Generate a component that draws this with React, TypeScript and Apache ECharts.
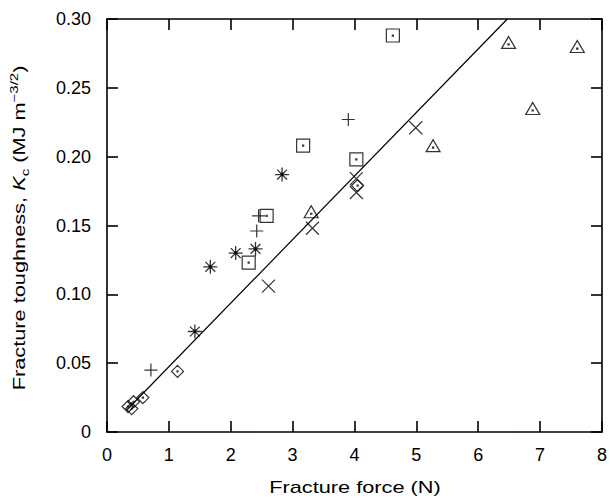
import React, { useEffect, useRef } from "react";
import * as echarts from "echarts";

// Data
const diamondX = [0.34, 0.40, 0.43, 0.58, 1.14, 4.05];
const diamondY = [0.0185, 0.017, 0.022, 0.025, 0.044, 0.179];

const plusX = [0.71, 2.42, 2.45, 3.90];
const plusY = [0.045, 0.146, 0.157, 0.227];

const squareX = [2.29, 2.58, 3.17, 4.03, 4.62];
const squareY = [0.123, 0.157, 0.208, 0.198, 0.288];

const starX = [1.42, 1.67, 2.08, 2.40, 2.83];
const starY = [0.073, 0.120, 0.130, 0.133, 0.187];

const crossX = [2.61, 3.32, 4.03, 4.03, 4.99];
const crossY = [0.106, 0.148, 0.184, 0.174, 0.221];

const triX = [3.30, 5.27, 6.49, 6.88, 7.60];
const triY = [0.160, 0.208, 0.283, 0.235, 0.280];

const fitX = [0.32, 6.47];
const fitY = [0.016, 0.30];

const xTitle = "Fracture force (N)";
const yTitle = "Fracture toughness, {i|K}{sub|c} (MJ m{sup|\u22123/2})";

const FONT = '"Liberation Sans", Arial, sans-serif';

const zip = (xs: number[], ys: number[]) => xs.map((x, i) => [x, ys[i]]);

const SYM_DIAMOND = "path://M5,0L10,5L5,10L0,5Z M4.6,4.6L5.4,4.6L5.4,5.4L4.6,5.4Z";
const SYM_SQUARE = "path://M0,0L10,0L10,10L0,10Z M4.6,4.6L5.4,4.6L5.4,5.4L4.6,5.4Z";
const SYM_TRI = "path://M5,0L10,8.7L0,8.7Z M4.6,5.4L5.4,5.4L5.4,6.2L4.6,6.2Z";
const SYM_PLUS = "path://M0,5L10,5M5,0L5,10";
const SYM_CROSS = "path://M0,0L10,10M10,0L0,10";
const SYM_STAR =
  "path://M5,0L5,10M0,5L10,5M1.5,1.5L8.5,8.5M8.5,1.5L1.5,8.5M6.1,5A1.1,1.1 0 1,1 3.9,5A1.1,1.1 0 1,1 6.1,5Z";

export default function App() {
  const ref = useRef<HTMLDivElement>(null);
  useEffect(() => {
    if (!ref.current) return;
    const chart = echarts.init(ref.current, null, { renderer: "svg" });
    const openStyle = { color: "rgba(0,0,0,0)", borderColor: "#000", borderWidth: 1.2 };
    const scatter = (name: string, xs: number[], ys: number[], symbol: string, size: any, style: any = openStyle) => ({
      name,
      type: "scatter",
      data: zip(xs, ys),
      symbol,
      symbolSize: size,
      itemStyle: style,
      z: 3,
    });
    const axisCommon = {
      axisLine: { show: true, onZero: false, lineStyle: { color: "#000", width: 1.6 } },
      axisTick: { show: true, inside: true, length: 11, lineStyle: { color: "#000", width: 1.6 } },
      splitLine: { show: false },
    };
    chart.setOption({
      animation: false,
      grid: { left: 107, right: 6, top: 19, bottom: 70, containLabel: false },
      xAxis: [
        {
          type: "value",
          min: 0,
          max: 8,
          interval: 1,
          ...axisCommon,
          axisLabel: { color: "#000", fontSize: 18, fontFamily: FONT, margin: 14 },
        },
        {
          type: "value",
          position: "top",
          min: 0,
          max: 8,
          interval: 1,
          ...axisCommon,
          axisLabel: { show: false },
        },
      ],
      yAxis: [
        {
          type: "value",
          min: 0,
          max: 0.3,
          interval: 0.05,
          ...axisCommon,
          axisLabel: {
            color: "#000",
            fontSize: 18,
            fontFamily: FONT,
            margin: 16,
            formatter: (v: number) => (v === 0 ? "0" : v.toFixed(2)),
          },
        },
        {
          type: "value",
          position: "right",
          min: 0,
          max: 0.3,
          interval: 0.05,
          ...axisCommon,
          axisLabel: { show: false },
        },
      ],
      series: [
        {
          name: "fit",
          type: "line",
          data: zip(fitX, fitY),
          symbol: "none",
          lineStyle: { color: "#000", width: 1.2 },
          z: 2,
        },
        scatter("diamond", diamondX, diamondY, SYM_DIAMOND, 12),
        scatter("plus", plusX, plusY, SYM_PLUS, 13),
        scatter("square", squareX, squareY, SYM_SQUARE, 13),
        scatter("star", starX, starY, SYM_STAR, 14, { color: "#000", borderColor: "#000", borderWidth: 1.3 }),
        scatter("cross", crossX, crossY, SYM_CROSS, 13),
        scatter("triangle", triX, triY, SYM_TRI, [14, 12]),
      ],
      graphic: [
        {
          type: "text",
          x: 355,
          y: 488,
          scaleX: 1.36,
          style: {
            text: xTitle,
            fontSize: 16,
            fontFamily: FONT,
            fill: "#000",
            align: "center",
            verticalAlign: "middle",
            textAlign: "center",
            textVerticalAlign: "middle",
          },
        },
        {
          type: "text",
          x: 20,
          y: 228,
          rotation: Math.PI / 2,
          scaleX: 1.36,
          style: {
            text: yTitle,
            fontSize: 16,
            fontFamily: FONT,
            fill: "#000",
            lineHeight: 22,
            align: "center",
            verticalAlign: "middle",
            textAlign: "center",
            textVerticalAlign: "middle",
            rich: {
              i: { fontStyle: "italic", fontSize: 16, fontFamily: FONT, fill: "#000" },
              sub: { fontSize: 11, lineHeight: 11, verticalAlign: "bottom", fontFamily: FONT, fill: "#000" },
              sup: { fontSize: 11, lineHeight: 11, verticalAlign: "top", fontFamily: FONT, fill: "#000" },
            },
          },
        },
      ],
    });
    return () => chart.dispose();
  }, []);
  return (
    <div
      ref={ref}
      style={{ position: "fixed", left: 0, top: 0, width: 610, height: 502, background: "#fff" }}
    />
  );
}
